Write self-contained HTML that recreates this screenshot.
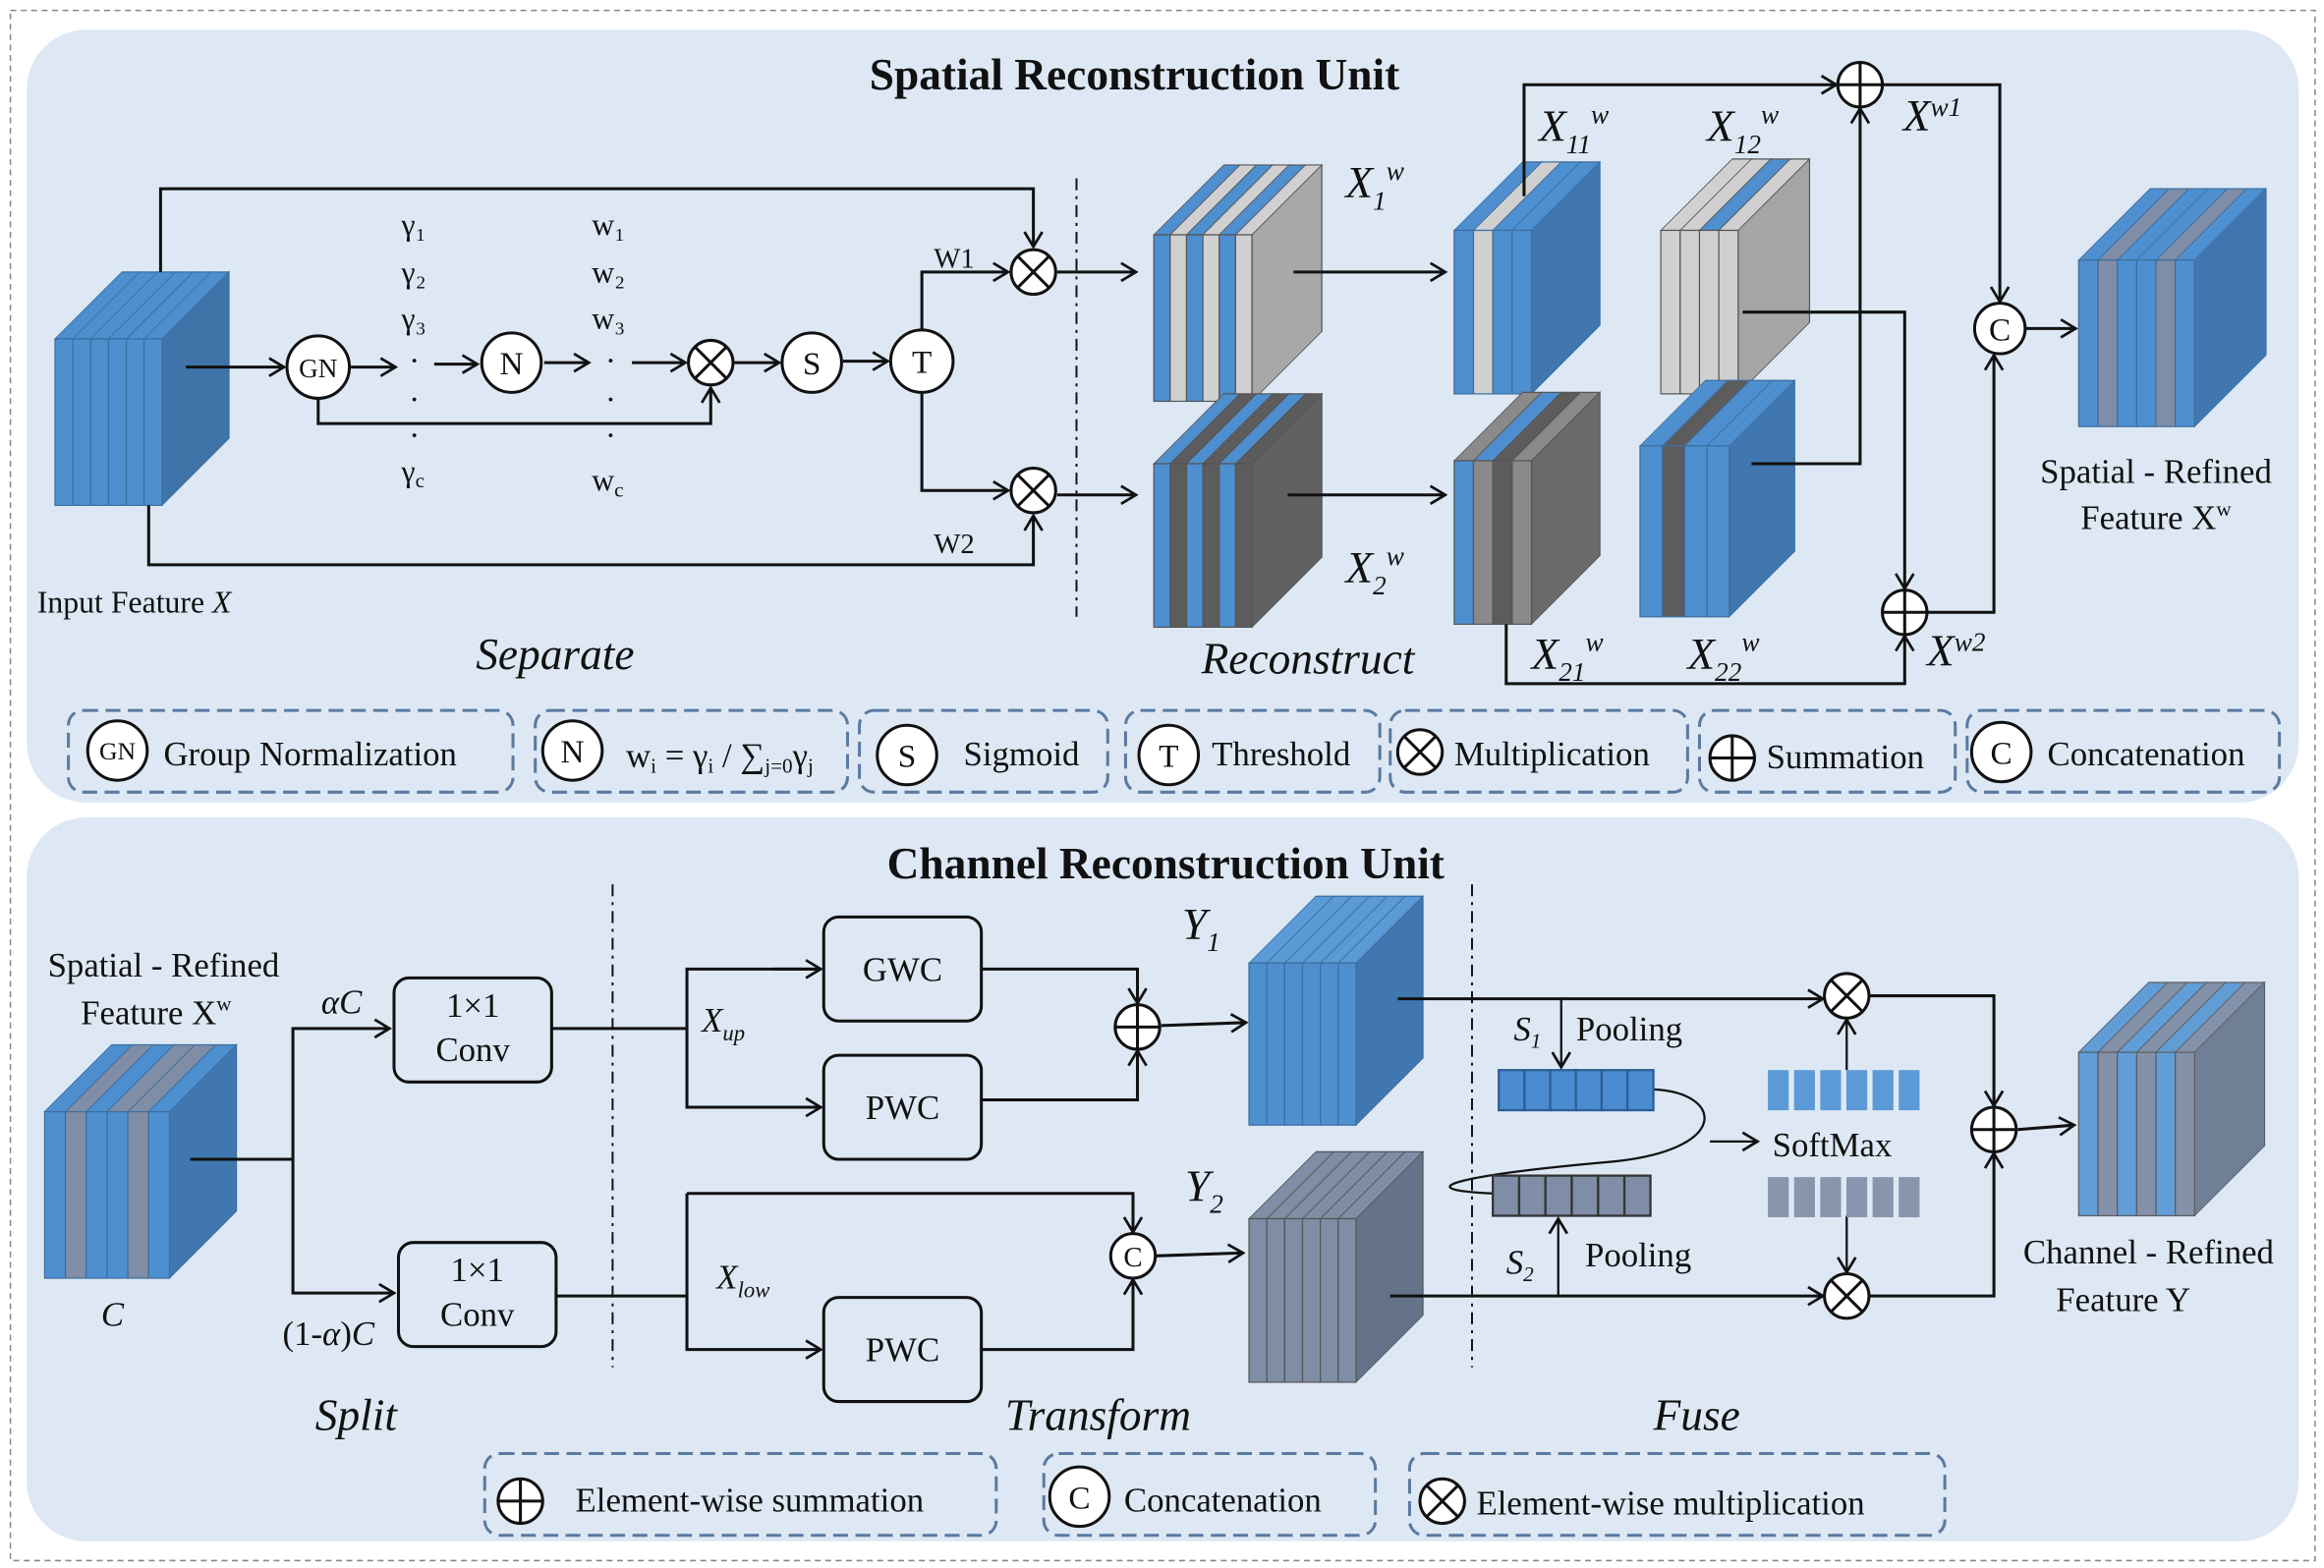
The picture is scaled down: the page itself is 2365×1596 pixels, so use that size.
<!DOCTYPE html>
<html><head><meta charset="utf-8"><style>
html,body{margin:0;padding:0;background:#fff;width:2365px;height:1596px;overflow:hidden}
svg{display:block}
text{font-family:"Liberation Serif",serif;fill:#111}
.it{font-style:italic}
.b{fill:#4e8fd0}.lg{fill:#d0d0d0}.g{fill:#8a8a8a}.dg{fill:#5c5c5c}.gb{fill:#7f8da6}.lb{fill:#5b9ad6}
.cb rect{stroke:#3c6e9e;stroke-width:0.8}
.cg rect{stroke:#555;stroke-width:0.8}
</style></head><body>
<svg width="2365" height="1596" viewBox="0 0 1563 1055" preserveAspectRatio="none" xmlns="http://www.w3.org/2000/svg">
<defs>
<marker id="a" markerUnits="userSpaceOnUse" markerWidth="16" markerHeight="16" refX="12" refY="7" orient="auto"><path d="M2,1 L12,7 L2,13" fill="none" stroke="#111" stroke-width="1.8"/></marker>
<g id="mu"><circle r="15" fill="#fff" stroke="#111" stroke-width="2"/><path d="M-10.5,-10.5L10.5,10.5M10.5,-10.5L-10.5,10.5" stroke="#111" stroke-width="2"/></g>
<g id="su"><circle r="15" fill="#fff" stroke="#111" stroke-width="2"/><path d="M-15,0L15,0M0,-15L0,15" stroke="#111" stroke-width="2"/></g>
</defs>
<rect x="7" y="7" width="1550" height="1043" fill="#fff" stroke="#888" stroke-dasharray="4,3"/>
<rect x="18" y="20" width="1528" height="520" rx="40" fill="#dde8f4"/>
<rect x="18" y="550" width="1528" height="487" rx="40" fill="#dde8f4"/>

<!-- cube 1 input -->
<g class="cb">
<g transform="translate(37,228) skewX(-45)"><rect class="b" x="0" y="-45" width="12" height="45"/><rect class="b" x="12" y="-45" width="12" height="45"/><rect class="b" x="24" y="-45" width="12" height="45"/><rect class="b" x="36" y="-45" width="12" height="45"/><rect class="b" x="48" y="-45" width="12" height="45"/><rect class="b" x="60" y="-45" width="12" height="45"/></g>
<g transform="translate(109,228) skewY(-45)"><rect x="0" y="0" width="45" height="112" fill="#3f74a8"/></g>
<rect class="b" x="37" y="228" width="12" height="112"/><rect class="b" x="49" y="228" width="12" height="112"/><rect class="b" x="61" y="228" width="12" height="112"/><rect class="b" x="73" y="228" width="12" height="112"/><rect class="b" x="85" y="228" width="12" height="112"/><rect class="b" x="97" y="228" width="12" height="112"/>
</g>
<!-- cube 2 X1 -->
<g class="cg">
<g transform="translate(776,158) skewX(-45)"><rect class="b" x="0" y="-47" width="11" height="47"/><rect class="lg" x="11" y="-47" width="11" height="47"/><rect class="b" x="22" y="-47" width="11" height="47"/><rect class="lg" x="33" y="-47" width="11" height="47"/><rect class="b" x="44" y="-47" width="11" height="47"/><rect class="lg" x="55" y="-47" width="11" height="47"/></g>
<g transform="translate(842,158) skewY(-45)"><rect x="0" y="0" width="47" height="112" fill="#a8a8a8" stroke="#a8a8a8"/></g>
<rect class="b" x="776" y="158" width="11" height="112"/><rect class="lg" x="787" y="158" width="11" height="112"/><rect class="b" x="798" y="158" width="11" height="112"/><rect class="lg" x="809" y="158" width="11" height="112"/><rect class="b" x="820" y="158" width="11" height="112"/><rect class="lg" x="831" y="158" width="11" height="112"/>
</g>
<!-- cube 3 X2 -->
<g class="cg">
<g transform="translate(776,312) skewX(-45)"><rect class="b" x="0" y="-47" width="11" height="47"/><rect class="dg" x="11" y="-47" width="11" height="47"/><rect class="b" x="22" y="-47" width="11" height="47"/><rect class="dg" x="33" y="-47" width="11" height="47"/><rect class="b" x="44" y="-47" width="11" height="47"/><rect class="dg" x="55" y="-47" width="11" height="47"/></g>
<g transform="translate(842,312) skewY(-45)"><rect x="0" y="0" width="47" height="110" fill="#606060" stroke="#606060"/></g>
<rect class="b" x="776" y="312" width="11" height="110"/><rect class="dg" x="787" y="312" width="11" height="110"/><rect class="b" x="798" y="312" width="11" height="110"/><rect class="dg" x="809" y="312" width="11" height="110"/><rect class="b" x="820" y="312" width="11" height="110"/><rect class="dg" x="831" y="312" width="11" height="110"/>
</g>
<!-- cube 4 X11 -->
<g class="cb">
<g transform="translate(978,155) skewX(-45)"><rect class="b" x="0" y="-46" width="13" height="46"/><rect class="lg" x="13" y="-46" width="13" height="46"/><rect class="b" x="26" y="-46" width="13" height="46"/><rect class="b" x="39" y="-46" width="13" height="46"/></g>
<g transform="translate(1030,155) skewY(-45)"><rect x="0" y="0" width="46" height="110" fill="#4177b0" stroke="#4177b0"/></g>
<rect class="b" x="978" y="155" width="13" height="110"/><rect class="lg" x="991" y="155" width="13" height="110"/><rect class="b" x="1004" y="155" width="13" height="110"/><rect class="b" x="1017" y="155" width="13" height="110"/>
</g>
<!-- cube 5 X12 -->
<g class="cg">
<g transform="translate(1117,155) skewX(-45)"><rect class="lg" x="0" y="-48" width="13" height="48"/><rect class="lg" x="13" y="-48" width="13" height="48"/><rect class="b" x="26" y="-48" width="13" height="48"/><rect class="lg" x="39" y="-48" width="13" height="48"/></g>
<g transform="translate(1169,155) skewY(-45)"><rect x="0" y="0" width="48" height="110" fill="#a5a5a5" stroke="#a5a5a5"/></g>
<rect class="lg" x="1117" y="155" width="13" height="110"/><rect class="lg" x="1130" y="155" width="13" height="110"/><rect class="lg" x="1143" y="155" width="13" height="110"/><rect class="lg" x="1156" y="155" width="13" height="110"/>
</g>
<!-- cube 6 X21 -->
<g class="cg">
<g transform="translate(978,310) skewX(-45)"><rect class="g" x="0" y="-46" width="13" height="46"/><rect class="b" x="13" y="-46" width="13" height="46"/><rect class="dg" x="26" y="-46" width="13" height="46"/><rect class="g" x="39" y="-46" width="13" height="46"/></g>
<g transform="translate(1030,310) skewY(-45)"><rect x="0" y="0" width="46" height="110" fill="#6a6a6a" stroke="#6a6a6a"/></g>
<rect class="b" x="978" y="310" width="13" height="110"/><rect class="g" x="991" y="310" width="13" height="110"/><rect class="dg" x="1004" y="310" width="13" height="110"/><rect class="g" x="1017" y="310" width="13" height="110"/>
</g>
<!-- cube 7 X22 -->
<g class="cb">
<g transform="translate(1103,300) skewX(-45)"><rect class="b" x="0" y="-44" width="15" height="44"/><rect class="dg" x="15" y="-44" width="15" height="44"/><rect class="b" x="30" y="-44" width="15" height="44"/><rect class="b" x="45" y="-44" width="15" height="44"/></g>
<g transform="translate(1163,300) skewY(-45)"><rect x="0" y="0" width="44" height="115" fill="#4177b0" stroke="#4177b0"/></g>
<rect class="b" x="1103" y="300" width="15" height="115"/><rect class="dg" x="1118" y="300" width="15" height="115"/><rect class="b" x="1133" y="300" width="15" height="115"/><rect class="b" x="1148" y="300" width="15" height="115"/>
</g>
<!-- cube 8 spatial refined -->
<g class="cb">
<g transform="translate(1398,175) skewX(-45)"><rect class="b" x="0" y="-48" width="13" height="48"/><rect class="gb" x="13" y="-48" width="13" height="48"/><rect class="b" x="26" y="-48" width="13" height="48"/><rect class="b" x="39" y="-48" width="13" height="48"/><rect class="gb" x="52" y="-48" width="13" height="48"/><rect class="b" x="65" y="-48" width="13" height="48"/></g>
<g transform="translate(1476,175) skewY(-45)"><rect x="0" y="0" width="48" height="112" fill="#4177b0" stroke="#4177b0"/></g>
<rect class="b" x="1398" y="175" width="13" height="112"/><rect class="gb" x="1411" y="175" width="13" height="112"/><rect class="b" x="1424" y="175" width="13" height="112"/><rect class="b" x="1437" y="175" width="13" height="112"/><rect class="gb" x="1450" y="175" width="13" height="112"/><rect class="b" x="1463" y="175" width="13" height="112"/>
</g>
<!-- cube 9 CRU input -->
<g class="cb">
<g transform="translate(30,748) skewX(-45)"><rect class="b" x="0" y="-45" width="14" height="45"/><rect class="gb" x="14" y="-45" width="14" height="45"/><rect class="b" x="28" y="-45" width="14" height="45"/><rect class="gb" x="42" y="-45" width="14" height="45"/><rect class="gb" x="56" y="-45" width="14" height="45"/><rect class="b" x="70" y="-45" width="14" height="45"/></g>
<g transform="translate(114,748) skewY(-45)"><rect x="0" y="0" width="45" height="112" fill="#4177b0" stroke="#4177b0"/></g>
<rect class="b" x="30" y="748" width="14" height="112"/><rect class="gb" x="44" y="748" width="14" height="112"/><rect class="b" x="58" y="748" width="14" height="112"/><rect class="b" x="72" y="748" width="14" height="112"/><rect class="gb" x="86" y="748" width="14" height="112"/><rect class="b" x="100" y="748" width="14" height="112"/>
</g>
<!-- cube 10 Y1 -->
<g class="cb">
<g transform="translate(840,648) skewX(-45)"><rect class="lb" x="0" y="-45" width="12" height="45"/><rect class="lb" x="12" y="-45" width="12" height="45"/><rect class="lb" x="24" y="-45" width="12" height="45"/><rect class="lb" x="36" y="-45" width="12" height="45"/><rect class="lb" x="48" y="-45" width="12" height="45"/><rect class="lb" x="60" y="-45" width="12" height="45"/></g>
<g transform="translate(912,648) skewY(-45)"><rect x="0" y="0" width="45" height="109" fill="#4177b0" stroke="#4177b0"/></g>
<rect class="b" x="840" y="648" width="12" height="109"/><rect class="b" x="852" y="648" width="12" height="109"/><rect class="b" x="864" y="648" width="12" height="109"/><rect class="b" x="876" y="648" width="12" height="109"/><rect class="b" x="888" y="648" width="12" height="109"/><rect class="b" x="900" y="648" width="12" height="109"/>
</g>
<!-- cube 11 Y2 -->
<g class="cg">
<g transform="translate(840,820) skewX(-45)"><rect class="gb" x="0" y="-45" width="12" height="45"/><rect class="gb" x="12" y="-45" width="12" height="45"/><rect class="gb" x="24" y="-45" width="12" height="45"/><rect class="gb" x="36" y="-45" width="12" height="45"/><rect class="gb" x="48" y="-45" width="12" height="45"/><rect class="gb" x="60" y="-45" width="12" height="45"/></g>
<g transform="translate(912,820) skewY(-45)"><rect x="0" y="0" width="45" height="110" fill="#65738a" stroke="#65738a"/></g>
<rect class="gb" x="840" y="820" width="12" height="110"/><rect class="gb" x="852" y="820" width="12" height="110"/><rect class="gb" x="864" y="820" width="12" height="110"/><rect class="gb" x="876" y="820" width="12" height="110"/><rect class="gb" x="888" y="820" width="12" height="110"/><rect class="gb" x="900" y="820" width="12" height="110"/>
</g>
<!-- cube 12 output Y -->
<g class="cg" opacity="0.95">
<g transform="translate(1398,708) skewX(-45)"><rect class="lb" x="0" y="-47" width="13" height="47"/><rect class="gb" x="13" y="-47" width="13" height="47"/><rect class="lb" x="26" y="-47" width="13" height="47"/><rect class="gb" x="39" y="-47" width="13" height="47"/><rect class="lb" x="52" y="-47" width="13" height="47"/><rect class="gb" x="65" y="-47" width="13" height="47"/></g>
<g transform="translate(1476,708) skewY(-45)"><rect x="0" y="0" width="47" height="110" fill="#6a7a92" stroke="#6a7a92"/></g>
<rect class="lb" x="1398" y="708" width="13" height="110"/><rect class="gb" x="1411" y="708" width="13" height="110"/><rect class="lb" x="1424" y="708" width="13" height="110"/><rect class="gb" x="1437" y="708" width="13" height="110"/><rect class="lb" x="1450" y="708" width="13" height="110"/><rect class="gb" x="1463" y="708" width="13" height="110"/>
</g>

<g fill="none" stroke="#111" stroke-width="2">
<polyline points="108,183 108,127 695,127 695,166" marker-end="url(#a)"/>
<polyline points="100,340 100,380 695,380 695,347" marker-end="url(#a)"/>
<line x1="125" y1="247" x2="191" y2="247" marker-end="url(#a)"/>
<line x1="236" y1="247" x2="266" y2="247" marker-end="url(#a)"/>
<line x1="292" y1="245" x2="321" y2="245" marker-end="url(#a)"/>
<line x1="366" y1="244" x2="396" y2="244" marker-end="url(#a)"/>
<line x1="425" y1="244" x2="461" y2="244" marker-end="url(#a)"/>
<polyline points="214,268 214,285 478,285 478,261" marker-end="url(#a)"/>
<line x1="494" y1="244" x2="524" y2="244" marker-end="url(#a)"/>
<line x1="567" y1="243" x2="597" y2="243" marker-end="url(#a)"/>
<polyline points="620,222 620,183 678,183" marker-end="url(#a)"/>
<polyline points="620,264 620,330 678,330" marker-end="url(#a)"/>
<line x1="711" y1="183" x2="764" y2="183" marker-end="url(#a)"/>
<line x1="711" y1="333" x2="764" y2="333" marker-end="url(#a)"/>
<line x1="870" y1="183" x2="972" y2="183" marker-end="url(#a)"/>
<line x1="866" y1="333" x2="972" y2="333" marker-end="url(#a)"/>
<polyline points="1025,132 1025,57 1235,57" marker-end="url(#a)"/>
<polyline points="1178,312 1251,312 1251,73" marker-end="url(#a)"/>
<polyline points="1172,210 1281,210 1281,396" marker-end="url(#a)"/>
<polyline points="1013,420 1013,460 1281,460 1281,428" marker-end="url(#a)"/>
<polyline points="1266,57 1345,57 1345,203" marker-end="url(#a)"/>
<polyline points="1296,412 1341,412 1341,239" marker-end="url(#a)"/>
<line x1="1362" y1="221" x2="1396" y2="221" marker-end="url(#a)"/>
<line x1="128" y1="780" x2="197" y2="780"/>
<polyline points="197,780 197,692 262,692" marker-end="url(#a)"/>
<polyline points="197,780 197,870 265,870" marker-end="url(#a)"/>
<line x1="371" y1="692" x2="462" y2="692"/>
<polyline points="552,652 462,652 462,745 552,745"/>
<line x1="520" y1="652" x2="552" y2="652" marker-end="url(#a)"/>
<line x1="520" y1="745" x2="552" y2="745" marker-end="url(#a)"/>
<polyline points="660,652 765,652 765,675" marker-end="url(#a)"/>
<polyline points="660,740 765,740 765,707" marker-end="url(#a)"/>
<line x1="781" y1="690" x2="838" y2="688" marker-end="url(#a)"/>
<line x1="374" y1="872" x2="462" y2="872"/>
<polyline points="462,803 762,803 762,829" marker-end="url(#a)"/>
<polyline points="462,803 462,908 552,908" marker-end="url(#a)"/>
<polyline points="660,908 762,908 762,861" marker-end="url(#a)"/>
<line x1="777" y1="845" x2="836" y2="843" marker-end="url(#a)"/>
<line x1="940" y1="672" x2="1226" y2="672" marker-end="url(#a)"/>
<line x1="935" y1="872" x2="1226" y2="872" marker-end="url(#a)"/>
<polyline points="1258,670 1341,670 1341,744" marker-end="url(#a)"/>
<polyline points="1258,872 1341,872 1341,776" marker-end="url(#a)"/>
<line x1="1357" y1="760" x2="1395" y2="757" marker-end="url(#a)"/>
<line x1="1050" y1="672" x2="1050" y2="718" stroke-width="1.5" marker-end="url(#a)"/>
<line x1="1048" y1="872" x2="1048" y2="820" stroke-width="1.5" marker-end="url(#a)"/>
<line x1="1242" y1="720" x2="1242" y2="686" stroke-width="1.5" marker-end="url(#a)"/>
<line x1="1242" y1="818" x2="1242" y2="856" stroke-width="1.5" marker-end="url(#a)"/>
<line x1="1150" y1="768" x2="1182" y2="768" stroke-width="1.5" marker-end="url(#a)"/>
<path d="M1112,733 C1160,735 1165,775 1080,782 C990,790 940,800 1004,803" stroke-width="1.5"/>
</g>
<g fill="none" stroke="#111" stroke-width="1.3" stroke-dasharray="8,4,2,4">
<line x1="724" y1="120" x2="724" y2="415"/>
<line x1="412" y1="595" x2="412" y2="920"/>
<line x1="990" y1="595" x2="990" y2="920"/>
</g>
<g fill="#dde8f4" stroke="#111" stroke-width="2">
<rect x="265" y="658" width="106" height="70" rx="10"/>
<rect x="268" y="836" width="106" height="70" rx="10"/>
<rect x="554" y="617" width="106" height="70" rx="10"/>
<rect x="554" y="710" width="106" height="70" rx="10"/>
<rect x="554" y="873" width="106" height="70" rx="10"/>
</g>
<!-- bars -->
<g stroke="#2c5f95" stroke-width="1.5" fill="#4a8ccf">
<rect x="1008" y="720" width="17.3" height="27"/><rect x="1025.3" y="720" width="17.3" height="27"/><rect x="1042.6" y="720" width="17.3" height="27"/><rect x="1059.9" y="720" width="17.3" height="27"/><rect x="1077.2" y="720" width="17.3" height="27"/><rect x="1094.5" y="720" width="17.5" height="27"/>
</g>
<g stroke="#333" stroke-width="1.5" fill="#7f8da6">
<rect x="1004" y="791" width="17.7" height="27"/><rect x="1021.7" y="791" width="17.7" height="27"/><rect x="1039.4" y="791" width="17.7" height="27"/><rect x="1057.1" y="791" width="17.7" height="27"/><rect x="1074.8" y="791" width="17.7" height="27"/><rect x="1092.5" y="791" width="17.5" height="27"/>
</g>
<g fill="#5b9ad6">
<rect x="1189" y="720" width="14" height="27"/><rect x="1206.6" y="720" width="14" height="27"/><rect x="1224.2" y="720" width="14" height="27"/><rect x="1241.8" y="720" width="14" height="27"/><rect x="1259.4" y="720" width="14" height="27"/><rect x="1277" y="720" width="14" height="27"/>
</g>
<g fill="#8795ad">
<rect x="1189" y="792" width="14" height="27"/><rect x="1206.6" y="792" width="14" height="27"/><rect x="1224.2" y="792" width="14" height="27"/><rect x="1241.8" y="792" width="14" height="27"/><rect x="1259.4" y="792" width="14" height="27"/><rect x="1277" y="792" width="14" height="27"/>
</g>
<g fill="none" stroke="#5a7aa0" stroke-width="2" stroke-dasharray="10,5">
<rect x="46" y="478" width="299" height="55" rx="10"/>
<rect x="360" y="478" width="210" height="55" rx="10"/>
<rect x="578" y="478" width="167" height="55" rx="10"/>
<rect x="757" y="478" width="171" height="55" rx="10"/>
<rect x="935" y="478" width="200" height="55" rx="10"/>
<rect x="1143" y="478" width="172" height="55" rx="10"/>
<rect x="1323" y="478" width="210" height="55" rx="10"/>
<rect x="326" y="978" width="344" height="55" rx="10"/>
<rect x="702" y="978" width="223" height="55" rx="10"/>
<rect x="948" y="978" width="360" height="55" rx="10"/>
</g>
<!-- operators -->
<use href="#mu" x="695" y="183"/><use href="#mu" x="695" y="330"/><use href="#mu" x="478" y="244"/>
<use href="#mu" x="1242" y="670"/><use href="#mu" x="1242" y="872"/><use href="#mu" x="955" y="506"/><use href="#mu" x="970" y="1010"/>
<use href="#su" x="1251" y="57"/><use href="#su" x="1281" y="412"/><use href="#su" x="765" y="691"/><use href="#su" x="1341" y="760"/><use href="#su" x="1165" y="510"/><use href="#su" x="350" y="1010"/>
<g fill="#fff" stroke="#111" stroke-width="2">
<circle cx="214" cy="247" r="21"/><circle cx="344" cy="244" r="20"/><circle cx="546" cy="244" r="20"/><circle cx="620" cy="243" r="21"/>
<circle cx="1345" cy="221" r="17"/><circle cx="762" cy="845" r="15"/>
<circle cx="79" cy="505" r="20"/><circle cx="385" cy="505" r="20"/><circle cx="610" cy="508" r="20"/><circle cx="786" cy="508" r="20"/><circle cx="1346" cy="506" r="20"/><circle cx="726" cy="1007" r="20"/>
</g>
<g text-anchor="middle" font-size="22">
<text x="214" y="254" font-size="18">GN</text><text x="344" y="252">N</text><text x="546" y="252">S</text><text x="620" y="251">T</text>
<text x="1345" y="229">C</text><text x="762" y="852" font-size="19">C</text>
<text x="79" y="511" font-size="17">GN</text><text x="385" y="513">N</text><text x="610" y="516">S</text><text x="786" y="516">T</text><text x="1346" y="514">C</text><text x="726" y="1015">C</text>
</g>

<text x="763" y="60" text-anchor="middle" font-size="30" font-weight="bold">Spatial Reconstruction Unit</text>
<text x="784" y="591" text-anchor="middle" font-size="30" font-weight="bold">Channel Reconstruction Unit</text>
<g font-size="21">
<text x="25" y="412">Input Feature <tspan class="it">X</tspan></text>
<text x="270" y="158">γ₁</text><text x="270" y="190">γ₂</text><text x="270" y="221">γ₃</text><text x="270" y="324">γ<tspan font-size="14" dy="4">c</tspan></text>
<text x="398" y="158">w₁</text><text x="398" y="190">w₂</text><text x="398" y="221">w₃</text><text x="398" y="330">w<tspan font-size="14" dy="4">c</tspan></text>
<text x="628" y="180" font-size="19">W1</text><text x="628" y="372" font-size="19">W2</text>
<text x="1450" y="325" text-anchor="middle" font-size="23">Spatial - Refined</text>
<text x="1450" y="356" text-anchor="middle" font-size="23">Feature  X<tspan font-size="14" dy="-9">w</tspan></text>
<text x="110" y="657" text-anchor="middle" font-size="23">Spatial - Refined</text>
<text x="105" y="689" text-anchor="middle" font-size="23">Feature  X<tspan font-size="14" dy="-9">w</tspan></text>
<text x="1445" y="850" text-anchor="middle" font-size="23">Channel - Refined</text>
<text x="1428" y="882" text-anchor="middle" font-size="23">Feature  Y</text>
</g>
<g font-size="22">
<text x="275" y="250">·</text><text x="275" y="276">·</text><text x="275" y="300">·</text>
<text x="407" y="250">·</text><text x="407" y="276">·</text><text x="407" y="300">·</text>
</g>
<g font-size="30">
<text x="905" y="133" class="it">X<tspan font-size="18" dy="8">1</tspan><tspan font-size="18" dy="-20">w</tspan></text>
<text x="1035" y="95" class="it">X<tspan font-size="18" dy="8">11</tspan><tspan font-size="18" dy="-20">w</tspan></text>
<text x="1148" y="95" class="it">X<tspan font-size="18" dy="8">12</tspan><tspan font-size="18" dy="-20">w</tspan></text>
<text x="1280" y="88" class="it">X<tspan font-size="18" dy="-10">w1</tspan></text>
<text x="905" y="392" class="it">X<tspan font-size="18" dy="8">2</tspan><tspan font-size="18" dy="-20">w</tspan></text>
<text x="1030" y="450" class="it">X<tspan font-size="18" dy="8">21</tspan><tspan font-size="18" dy="-20">w</tspan></text>
<text x="1135" y="450" class="it">X<tspan font-size="18" dy="8">22</tspan><tspan font-size="18" dy="-20">w</tspan></text>
<text x="1296" y="448" class="it">X<tspan font-size="18" dy="-10">w2</tspan></text>
<text x="320" y="450" class="it">Separate</text>
<text x="808" y="453" class="it">Reconstruct</text>
<text x="212" y="962" class="it">Split</text>
<text x="676" y="962" class="it">Transform</text>
<text x="1112" y="962" class="it">Fuse</text>
<text x="795" y="632" class="it">Y<tspan font-size="18" dy="8">1</tspan></text>
<text x="797" y="808" class="it">Y<tspan font-size="18" dy="8">2</tspan></text>
</g>
<g font-size="23">
<text x="216" y="682" class="it">αC</text>
<text x="190" y="905">(1-<tspan class="it">α</tspan>)<tspan class="it">C</tspan></text>
<text x="68" y="892" class="it">C</text>
<text x="318" y="684" text-anchor="middle">1×1</text><text x="318" y="714" text-anchor="middle">Conv</text>
<text x="321" y="862" text-anchor="middle">1×1</text><text x="321" y="892" text-anchor="middle">Conv</text>
<text x="607" y="660" text-anchor="middle">GWC</text>
<text x="607" y="753" text-anchor="middle">PWC</text>
<text x="607" y="916" text-anchor="middle">PWC</text>
<text x="472" y="694" class="it">X<tspan font-size="15" dy="6">up</tspan></text>
<text x="482" y="867" class="it">X<tspan font-size="15" dy="6">low</tspan></text>
<text x="1018" y="700" class="it">S<tspan font-size="14" dy="5">1</tspan></text>
<text x="1060" y="700">Pooling</text>
<text x="1013" y="857" class="it">S<tspan font-size="14" dy="5">2</tspan></text>
<text x="1066" y="852">Pooling</text>
<text x="1192" y="778">SoftMax</text>
<text x="110" y="515">Group Normalization</text>
<text x="421" y="516">w<tspan font-size="14" dy="4">i</tspan><tspan dy="-4"> = γ</tspan><tspan font-size="14" dy="4">i</tspan><tspan dy="-4"> / ∑</tspan><tspan font-size="14" dy="4">j=0</tspan><tspan dy="-4">γ</tspan><tspan font-size="14" dy="4">j</tspan></text>
<text x="648" y="515">Sigmoid</text>
<text x="815" y="515">Threshold</text>
<text x="978" y="515">Multiplication</text>
<text x="1188" y="517">Summation</text>
<text x="1377" y="515">Concatenation</text>
<text x="387" y="1017">Element-wise summation</text>
<text x="756" y="1017">Concatenation</text>
<text x="993" y="1019">Element-wise multiplication</text>
</g>
</svg>
</body></html>
